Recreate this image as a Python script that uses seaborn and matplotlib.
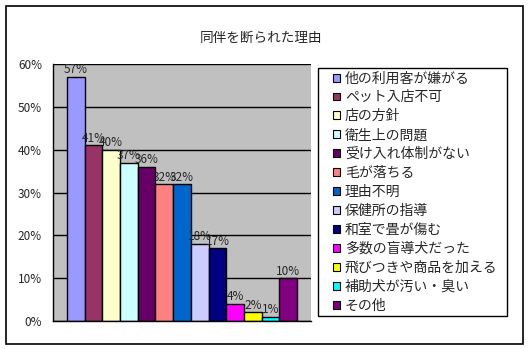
import matplotlib
matplotlib.use("Agg")
import matplotlib.pyplot as plt
import seaborn as sns
import pandas as pd
from matplotlib.patches import Rectangle

reasons = ["他の利用客が嫌がる", "ペット入店不可", "店の方針", "衛生上の問題",
           "受け入れ体制がない", "毛が落ちる", "理由不明", "保健所の指導",
           "和室で畳が傷む", "多数の盲導犬だった", "飛びつきや商品を加える",
           "補助犬が汚い・臭い", "その他"]
values = [57, 41, 40, 37, 36, 32, 32, 18, 17, 4, 2, 1, 10]
colors = ["#9999FF", "#993366", "#FFFFCC", "#CCFFFF", "#660066", "#FF8080",
          "#0066CC", "#CCCCFF", "#000080", "#FF00FF", "#FFFF00", "#00FFFF",
          "#800080"]
yticks = [0, 10, 20, 30, 40, 50, 60]
title = "同伴を断られた理由"

sns.set_style("white")
plt.rcParams["font.family"] = ["Noto Sans CJK JP", "DejaVu Sans"]

W, H = 531, 349
fig = plt.figure(figsize=(W / 100, H / 100), dpi=100)
fig.patch.set_facecolor("white")

# outer chart border
fig.add_artist(Rectangle((6 / W, 1 - 344 / H), (523 - 6) / W, (344 - 6) / H,
                         transform=fig.transFigure, fill=False,
                         edgecolor="black", linewidth=1.2, zorder=-2))
# legend box
fig.add_artist(Rectangle((318 / W, 1 - 316 / H), (507 - 318) / W, (316 - 68) / H,
                         transform=fig.transFigure, facecolor="white",
                         edgecolor="black", linewidth=1.0, zorder=-1))

ax = fig.add_axes([53 / W, 1 - 321 / H, (311 - 53) / W, (321 - 64) / H])
ax.set_facecolor("#C0C0C0")

df = pd.DataFrame({"reason": reasons, "value": values})
sns.barplot(data=df, x="reason", y="value", hue="reason", palette=colors,
            width=1.0, edgecolor="black", linewidth=1.0, legend=False, ax=ax,
            saturation=1)

ax.set_ylim(0, 60)
ax.set_xlim(-0.5 - 0.78, len(values) - 0.5 + 0.78)
ax.set_yticks(yticks)
ax.set_yticklabels([f"{v}%" for v in yticks], fontsize=8.5)
ax.yaxis.grid(True, color="black", linewidth=1.0)
ax.set_axisbelow(True)
ax.set_xticks([])
ax.set_xlabel("")
ax.set_ylabel("")
for s in ["top", "right"]:
    ax.spines[s].set_visible(False)
for s in ["left", "bottom"]:
    ax.spines[s].set_color("black")
    ax.spines[s].set_linewidth(1.0)
ax.tick_params(axis="y", length=0, pad=8)

bars = ax.patches[:len(values)]
for b, v in zip(bars, values):
    ax.annotate(f"{v}%", (b.get_x() + b.get_width() / 2, b.get_height()),
                xytext=(0, 0.3), textcoords="offset points",
                ha="center", va="bottom", fontsize=8.5)

fig.text(261 / W, 1 - 38 / H, title, ha="center", va="center", fontsize=9.8)

leg = ax.legend(handles=bars, labels=reasons, loc="upper left",
                bbox_to_anchor=(333 / W, 1 - 71.5 / H),
                bbox_transform=fig.transFigure, frameon=False, fontsize=10,
                handlelength=0.5, handleheight=0.5, handletextpad=0.35,
                labelspacing=0.355, borderpad=0, borderaxespad=0)
for h in leg.legend_handles:
    h.set_edgecolor("black")
    h.set_linewidth(0.8)

fig.savefig("out.png", dpi=100)
